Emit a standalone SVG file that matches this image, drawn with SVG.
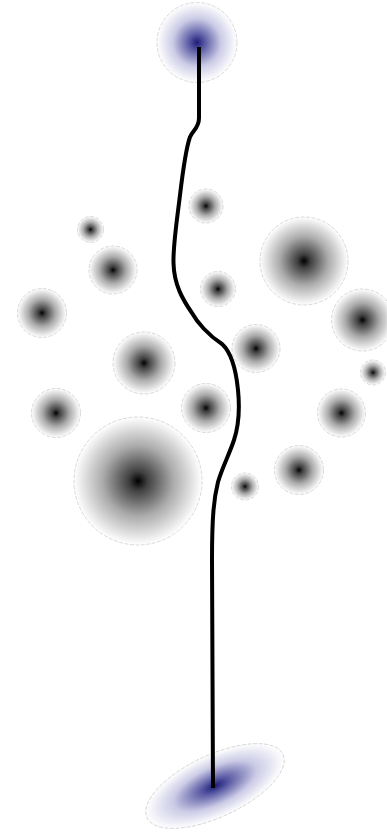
<svg xmlns="http://www.w3.org/2000/svg" width="387" height="833" viewBox="0 0 387 833">
<defs>
<radialGradient id="gray" cx="0.5" cy="0.5" r="0.5">
<stop offset="0" stop-color="#000"/>
<stop offset="0.15" stop-color="#404040"/>
<stop offset="0.55" stop-color="#ababab"/>
<stop offset="1" stop-color="#fff"/>
</radialGradient>
<radialGradient id="blue" cx="0.5" cy="0.5" r="0.5">
<stop offset="0" stop-color="#1c1c78"/>
<stop offset="0.2" stop-color="#5a5aa4"/>
<stop offset="0.6" stop-color="#cbcbe6"/>
<stop offset="1" stop-color="#fff"/>
</radialGradient>
</defs>
<style>
.n{fill:url(#gray);stroke:#c0c0c0;stroke-width:0.6;stroke-dasharray:4 1.5}
.t{fill:url(#blue);stroke:#c0c0c0;stroke-width:0.6;stroke-dasharray:4 1.5}
.edge{fill:none;stroke:#000;stroke-width:4;stroke-linejoin:round}
</style>
<g id="source"><circle class="t" cx="197" cy="42.5" r="40"/></g>
<g id="n1"><circle class="n" cx="206" cy="206" r="17"/></g>
<g id="n2"><circle class="n" cx="218" cy="289" r="17.5"/></g>
<g id="n3"><circle class="n" cx="90.5" cy="229.5" r="13"/></g>
<g id="n4"><circle class="n" cx="113" cy="270" r="24"/></g>
<g id="n5"><circle class="n" cx="304" cy="261" r="44"/></g>
<g id="n6"><circle class="n" cx="42" cy="313" r="24.5"/></g>
<g id="n7"><circle class="n" cx="362.5" cy="320" r="31"/></g>
<g id="n8"><circle class="n" cx="144" cy="363" r="31"/></g>
<g id="n9"><circle class="n" cx="256" cy="348.5" r="24"/></g>
<g id="n10"><circle class="n" cx="373" cy="372.5" r="12.5"/></g>
<g id="n11"><circle class="n" cx="56" cy="413" r="24.5"/></g>
<g id="n12"><circle class="n" cx="206" cy="408" r="24.5"/></g>
<g id="n13"><circle class="n" cx="341.5" cy="413" r="24"/></g>
<g id="n14"><circle class="n" cx="138" cy="481" r="64"/></g>
<g id="n15"><circle class="n" cx="245" cy="486.5" r="13.5"/></g>
<g id="n16"><circle class="n" cx="299" cy="470" r="24.5"/></g>
<g id="target"><ellipse class="t" cx="215" cy="786" rx="75" ry="31" transform="rotate(-25 215 786)"/></g>
<g id="connectors">
<path class="edge" d="M199,47 L199,118 C199,128 193,130 190,137 C186,148 183,170 180,195 C177,220 173,245 173.5,263 C174,285 183,300 192,313 C197,322 208,335 222,344 C232,353 236,370 238,390 C240,410 239,425 234,440 C229,455 222,468 218,482 C214,498 212,515 212,560 L213,788"/>
</g>
</svg>
